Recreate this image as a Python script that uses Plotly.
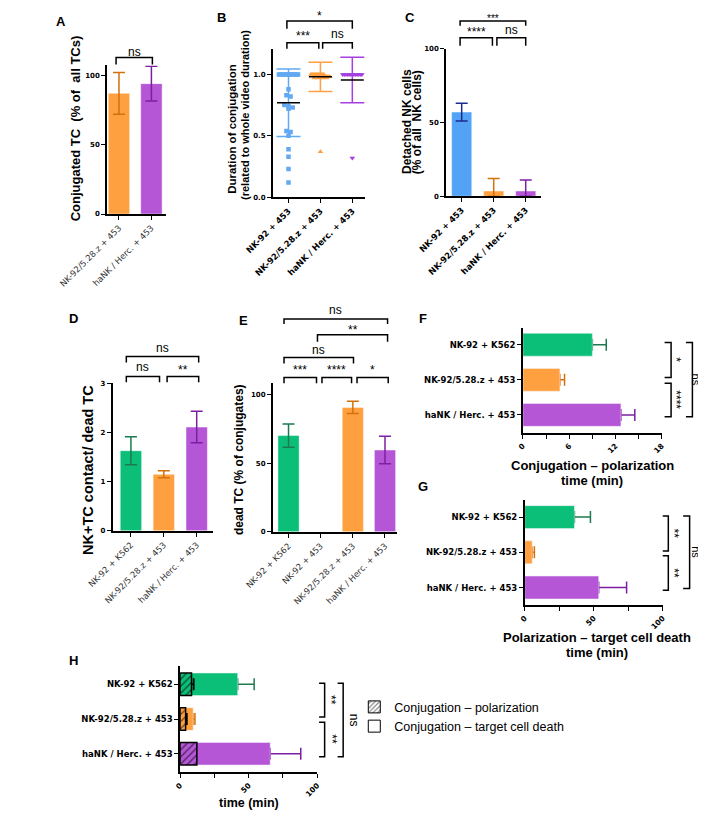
import plotly.graph_objects as go

W, H = 706, 817
OFF = 8  # the page body adds an 8px margin; map reference pixels onto the paper accordingly
def X(px): return (px - OFF) / W
def Y(py): return 1 - (py - OFF) / H

FONT = "Liberation Sans, Arial, sans-serif"
TFONT = "DejaVu Sans, sans-serif"

GREEN, GREEN_D = "#0cbf78", "#1d7a50"
ORANGE, ORANGE_D = "#ffa040", "#d2700c"
PURPLE, PURPLE_D = "#b556d6", "#7d1fa3"
BLUE, BLUE_D = "#52a3f6", "#1c2b8e"
BLUE_PT = "#62a8f2"
PURPLE_PT = "#a63fe0"

# ------------------------------------------------------------------ data
A_cats = ["NK-92/5.28.z + 453", "haNK / Herc. + 453"]
A_mean = [87, 94]
A_sd = [15, 12.5]
A_yticks = [0, 50, 100]

B_cats = ["NK-92 + 453", "NK-92/5.28.z + 453", "haNK / Herc. + 453"]
B_nk92 = [1.0, 1.0, 1.0, 1.0, 1.0, 1.0, 1.0, 1.0, 1.0, 1.0, 1.0, 1.0,
          0.88, 0.83, 0.82, 0.75, 0.74, 0.73, 0.72, 0.54, 0.53, 0.50,
          0.39, 0.33, 0.23, 0.12]
B_528z = [1.0, 1.0, 1.0, 1.0, 1.0, 1.0, 1.0, 1.0, 1.0, 1.0, 1.0, 1.0, 1.0, 1.0,
          0.98, 0.98, 0.98, 0.98, 0.98, 0.98, 0.97, 0.97, 0.97, 0.97, 0.37]
B_hank = [1.0, 1.0, 1.0, 1.0, 1.0, 1.0, 1.0, 1.0, 1.0, 1.0, 1.0, 1.0, 1.0, 0.32]
B_mean = [0.77, 0.98, 0.955]
B_sd = [0.275, 0.12, 0.185]
B_yticks = [0.0, 0.5, 1.0]
B_ytext = ["0.0", "0.5", "1.0"]

C_cats = ["NK-92 + 453", "NK-92/5.28.z + 453", "haNK / Herc. + 453"]
C_mean = [57, 3.5, 3.5]
C_sd = [6, 8.5, 7.5]
C_yticks = [0, 50, 100]

D_cats = ["NK-92 + K562", "NK-92/5.28.z + 453", "haNK / Herc. + 453"]
D_mean = [1.63, 1.15, 2.11]
D_sd = [0.285, 0.07, 0.32]
D_yticks = [0, 1, 2, 3]

E_cats = ["NK-92 + K562", "NK-92 + 453", "NK-92/5.28.z + 453", "haNK / Herc. + 453"]
E_mean = [70, 0, 90.5, 59.5]
E_sd = [8.5, 0, 4.5, 10]
E_yticks = [0, 50, 100]

F_cats = ["NK-92 + K562", "NK-92/5.28.z + 453", "haNK / Herc. + 453"]
F_mean = [9.0, 4.8, 12.7]
F_sd = [1.8, 0.6, 1.8]
F_xticks = [0, 6, 12, 18]

G_cats = ["NK-92 + K562", "NK-92/5.28.z + 453", "haNK / Herc. + 453"]
G_mean = [36, 5.4, 53.6]
G_sd = [11.6, 1.6, 20.2]
G_xticks = [0, 50, 100]

H_cats = ["NK-92 + K562", "NK-92/5.28.z + 453", "haNK / Herc. + 453"]
H_pol_mean = [8.3, 4.0, 12.2]
H_pol_sd = [1.7, 1.0, 0]
H_death_mean = [42, 9.5, 65.7]
H_death_sd = [12, 1.3, 22.3]
H_xticks = [0, 50, 100]

# ------------------------------------------------------------------ styles
BAR_COL = [GREEN, ORANGE, PURPLE]
ERR_COL = [GREEN_D, ORANGE_D, PURPLE_D]
EDGE = dict(color="rgba(255,255,255,0.45)", width=1)

YT = dict(family=TFONT, size=7, color="black", weight="bold")
XT = dict(family=TFONT, size=7.5, color="black", weight="bold")
CATG = dict(family=TFONT, size=8.5, color="#333333")
CATB = dict(family=TFONT, size=8.5, color="black", weight="bold")
HCAT = dict(family=TFONT, size=8.5, color="black", weight="bold")

fig = go.Figure()
axes = {}
shapes = []
annots = []


def add_axes(n, xdom, ydom, xr, yr, xkw, ykw):
    xname = "xaxis" if n == 1 else f"xaxis{n}"
    yname = "yaxis" if n == 1 else f"yaxis{n}"
    xa = "x" if n == 1 else f"x{n}"
    ya = "y" if n == 1 else f"y{n}"
    base = dict(showline=True, linecolor="black", linewidth=1.5, ticks="outside",
                ticklen=4, tickwidth=1.3, tickcolor="black", showgrid=False,
                zeroline=False, fixedrange=True)
    axes[xname] = dict(base, domain=[X(xdom[0]), X(xdom[1])], range=xr, anchor=ya, **xkw)
    axes[yname] = dict(base, domain=[Y(ydom[1]), Y(ydom[0])], range=yr, anchor=xa, **ykw)
    return xa, ya


def minor_of(t):
    return dict(tickmode="array", tickvals=[(a + b) / 2 for a, b in zip(t, t[1:])],
                ticks="outside", ticklen=4, tickwidth=1.3, tickcolor="black")


def vbracket(xa, i0, i1, line_py, leg_py, text, text_py, size=12):
    shapes.append(dict(type="path", xref=xa, yref="paper",
                       path=f"M{i0},{Y(leg_py)} L{i0},{Y(line_py)} L{i1},{Y(line_py)} L{i1},{Y(leg_py)}",
                       line=dict(color="black", width=1.5)))
    ty = text_py + (3 if "*" in text else 0)
    annots.append(dict(xref=xa, yref="paper", x=(i0 + i1) / 2, y=Y(ty), text=text,
                       showarrow=False, xanchor="center", yanchor="middle",
                       font=dict(family=FONT, size=size, color="black")))


def hbracket(ya, y0, y1, arm_px, line_px, text, text_px, size=12):
    shapes.append(dict(type="path", xref="paper", yref=ya,
                       path=f"M{X(arm_px)},{y0} L{X(line_px)},{y0} L{X(line_px)},{y1} L{X(arm_px)},{y1}",
                       line=dict(color="black", width=1.5)))
    tx = text_px - (3 if "*" in text else 0)
    annots.append(dict(xref="paper", yref=ya, x=X(tx), y=(y0 + y1) / 2, text=text,
                       showarrow=False, xanchor="center", yanchor="middle", textangle=90,
                       font=dict(family=FONT, size=size, color="black")))


def text(px, py, t, size=12, bold=False, angle=0, family=FONT):
    annots.append(dict(xref="paper", yref="paper", x=X(px), y=Y(py), text=t,
                       showarrow=False, xanchor="center", yanchor="middle", textangle=angle,
                       font=dict(family=family, size=size, color="black",
                                 weight="bold" if bold else "normal")))


def vbars(xa, ya, means, sds, cols, ecols, width):
    for i, (m, s, c, e) in enumerate(zip(means, sds, cols, ecols)):
        err = dict(type="data", symmetric=False, array=[s], arrayminus=[min(s, m)],
                   color=e, thickness=1.5, width=6, visible=s > 0)
        fig.add_trace(go.Bar(x=[i], y=[m], width=width, xaxis=xa, yaxis=ya,
                             marker=dict(color=c, line=EDGE), error_y=err,
                             showlegend=False, hoverinfo="skip"))


def hbars(xa, ya, means, sds, cols, ecols, width, pattern=None, line=None):
    for i, (m, s, c, e) in enumerate(zip(means, sds, cols, ecols)):
        if s > 0:
            fig.add_trace(go.Bar(x=[m], y=[i], width=width, orientation="h", xaxis=xa, yaxis=ya,
                                 marker=dict(color="rgba(0,0,0,0)"),
                                 error_x=dict(type="data", symmetric=False, array=[s], arrayminus=[0],
                                              color=e, thickness=1.5, width=6),
                                 showlegend=False, hoverinfo="skip"))
        mk = dict(color=c, line=line if line else EDGE)
        if pattern:
            mk["pattern"] = dict(shape="/", fgcolor="black", bgcolor=c, size=5, solidity=0.3)
        fig.add_trace(go.Bar(x=[m], y=[i], width=width, orientation="h", xaxis=xa, yaxis=ya,
                             marker=mk, showlegend=False, hoverinfo="skip"))


def swarm(vals, center, tol=0.03, step=0.13, maxhalf=0.3):
    s = sorted(vals, reverse=True)
    clusters = []
    for v in s:
        if clusters and clusters[-1][0] - v <= tol:
            clusters[-1].append(v)
        else:
            clusters.append([v])
    xs, ys = [], []
    for cl in clusters:
        k = len(cl)
        if k == 1:
            offs = [0.0]
        else:
            half = min(maxhalf, step * (k - 1) / 2)
            offs = [-half + 2 * half * j / (k - 1) for j in range(k)]
        xs += [center + o for o in offs]
        ys += cl
    return xs, ys


# ------------------------------------------------------------------ panel A
xa, ya = add_axes(1, (63, 127), (62, 212), [-0.371, 1.457], [0, 107.1],
                  dict(tickvals=list(range(len(A_cats))), ticktext=A_cats, tickangle=-45, tickfont=CATG),
                  dict(tickvals=A_yticks, tickfont=YT))
vbars(xa, ya, A_mean, A_sd, [ORANGE, PURPLE], [ORANGE_D, PURPLE_D], 0.66)
vbracket(xa, -0.09, 1.03, 54, 61, "ns", 48)
text(29, 125, "Conjugated TC  (% of  all TCs)", size=13, bold=True, angle=-90)
text(13, 18, "A", size=13, bold=True)

# ------------------------------------------------------------------ panel B
xa, ya = add_axes(2, (242, 342), (45, 195), [-0.493, 2.41], [0, 1.21],
                  dict(tickvals=list(range(len(B_cats))), ticktext=B_cats, tickangle=-45, tickfont=CATB),
                  dict(tickvals=B_yticks, ticktext=B_ytext, tickfont=YT))
groups = [(B_nk92, BLUE_PT, "square", 4.5), (B_528z, ORANGE, "triangle-up", 5),
          (B_hank, PURPLE_PT, "triangle-down", 5)]
for i, (vals, col, sym, sz) in enumerate(groups):
    xs, ys = swarm(vals, i)
    fig.add_trace(go.Scatter(x=xs, y=ys, mode="markers", xaxis=xa, yaxis=ya,
                             marker=dict(symbol=sym, size=sz, color=col, line=dict(width=0)),
                             showlegend=False, hoverinfo="skip"))
for i, (m, s) in enumerate(zip(B_mean, B_sd)):
    col = groups[i][1]
    fig.add_trace(go.Scatter(x=[i], y=[m], mode="markers", xaxis=xa, yaxis=ya,
                             marker=dict(size=1, color="rgba(0,0,0,0)"),
                             error_y=dict(type="data", array=[s], color=col, thickness=1.5, width=12),
                             showlegend=False, hoverinfo="skip"))
    fig.add_trace(go.Scatter(x=[i - 0.36, i + 0.36], y=[m, m], mode="lines", xaxis=xa, yaxis=ya,
                             line=dict(color="black", width=1.5), showlegend=False, hoverinfo="skip"))
vbracket(xa, -0.05, 0.95, 39, 45, "***", 29)
vbracket(xa, 1.07, 2.0, 39, 45, "ns", 30)
vbracket(xa, -0.05, 2.0, 17, 25, "*", 9)
text(198, 126, "Duration of conjugation", size=11.5, bold=True, angle=-90)
text(212, 112, "(related to whole video duration)", size=11, bold=True, angle=-90)
text(187, 14, "B", size=13, bold=True)

# ------------------------------------------------------------------ panel C
xa, ya = add_axes(3, (429, 532), (45, 194), [-0.49, 2.49], [0, 100],
                  dict(tickvals=list(range(len(C_cats))), ticktext=C_cats, tickangle=-45, tickfont=CATB),
                  dict(tickvals=C_yticks, tickfont=YT))
vbars(xa, ya, C_mean, C_sd, [BLUE, ORANGE, PURPLE], [BLUE_D, ORANGE_D, PURPLE_D], 0.63)
vbracket(xa, -0.05, 0.96, 34, 42, "****", 25)
vbracket(xa, 1.1, 2.0, 34, 42, "ns", 26)
vbracket(xa, -0.05, 2.0, 17, 22, "***", 12, size=10)
text(387, 119, "Detached NK cells", size=12, bold=True, angle=-90)
text(398, 119, "(% of all  NK cells)", size=12, bold=True, angle=-90)
text(390, 14, "C", size=13, bold=True)

# ------------------------------------------------------------------ panel D
xa, ya = add_axes(4, (69, 178), (383, 532), [-0.56, 2.51], [0, 3],
                  dict(tickvals=list(range(len(D_cats))), ticktext=D_cats, tickangle=-45, tickfont=CATG),
                  dict(tickvals=D_yticks, tickfont=YT))
vbars(xa, ya, D_mean, D_sd, BAR_COL, ERR_COL, 0.65)
vbracket(xa, -0.14, 0.87, 376, 382, "ns", 367)
vbracket(xa, 1.1, 2.06, 376, 382, "**", 367)
vbracket(xa, -0.14, 2.06, 356, 362, "ns", 347)
text(43, 470, "NK+TC contact/ dead TC", size=14.5, bold=True, angle=-90)
text(27, 318, "D", size=13, bold=True)

# ------------------------------------------------------------------ panel E
xa, ya = add_axes(5, (242, 376), (383, 533), [-0.49, 3.37], [0, 108],
                  dict(tickvals=list(range(len(E_cats))), ticktext=E_cats, tickangle=-45, tickfont=CATG),
                  dict(tickvals=E_yticks, tickfont=YT))
vbars(xa, ya, E_mean, E_sd, [GREEN, GREEN, ORANGE, PURPLE], [GREEN_D, GREEN_D, ORANGE_D, PURPLE_D], 0.66)
vbracket(xa, -0.14, 0.87, 377, 383, "***", 367)
vbracket(xa, 1.04, 1.96, 377, 383, "****", 367)
vbracket(xa, 2.13, 3.1, 377, 383, "*", 367)
vbracket(xa, -0.14, 2.02, 357, 363, "ns", 349)
vbracket(xa, 0.9, 3.08, 334, 341, "**", 326)
vbracket(xa, -0.14, 3.08, 318, 323, "ns", 309)
text(205, 460, "dead TC (% of conjugates)", size=12, bold=True, angle=-90)
text(210, 320, "E", size=13, bold=True)

# ------------------------------------------------------------------ panel F
xa, ya = add_axes(6, (512, 662), (327, 433), [0, 18], [2.51, -0.48],
                  dict(tickvals=F_xticks, tickangle=-45, tickfont=XT, minor=minor_of(F_xticks)),
                  dict(tickvals=list(range(len(F_cats))), ticktext=F_cats, tickfont=HCAT))
hbars(xa, ya, F_mean, F_sd, BAR_COL, ERR_COL, 0.65)
hbracket(ya, -0.06, 0.93, 665, 672, "*", 680)
hbracket(ya, 1.1, 2.05, 665, 672, "****", 680)
hbracket(ya, -0.06, 2.05, 688, 695, "ns", 699, size=11)
text(587, 466, "Conjugation – polarization", size=13, bold=True)
text(587, 481, "time (min)", size=13, bold=True)
text(404, 318, "F", size=13, bold=True)

# ------------------------------------------------------------------ panel G
xa, ya = add_axes(7, (514, 663), (501, 607), [0, 100], [2.5, -0.48],
                  dict(tickvals=G_xticks, tickangle=-45, tickfont=XT, minor=minor_of(G_xticks)),
                  dict(tickvals=list(range(len(G_cats))), ticktext=G_cats, tickfont=HCAT))
hbars(xa, ya, G_mean, G_sd, BAR_COL, ERR_COL, 0.65)
hbracket(ya, -0.03, 0.96, 663, 669, "**", 678)
hbracket(ya, 1.1, 2.08, 663, 669, "**", 678)
hbracket(ya, -0.03, 2.03, 685, 692, "ns", 699, size=11)
text(592, 640, "Polarization – target cell death", size=13, bold=True)
text(592, 655, "time (min)", size=13, bold=True)
text(404, 487, "G", size=13, bold=True)

# ------------------------------------------------------------------ panel H
xa, ya = add_axes(8, (142, 290), (668, 776), [0, 100], [2.54, -0.54],
                  dict(tickvals=H_xticks, tickangle=-45, tickfont=XT, minor=minor_of(H_xticks)),
                  dict(tickvals=list(range(len(H_cats))), ticktext=H_cats, tickfont=HCAT))
hbars(xa, ya, H_death_mean, H_death_sd, BAR_COL, ERR_COL, 0.65)
hbars(xa, ya, H_pol_mean, H_pol_sd, BAR_COL, ["black"] * 3, 0.65, pattern=True,
      line=dict(color="black", width=1.5))
hbracket(ya, -0.03, 0.94, 292, 298, "**", 308)
hbracket(ya, 1.09, 2.09, 292, 298, "**", 308)
hbracket(ya, -0.03, 2.09, 312, 318, "ns", 330)
text(216, 807, "time (min)", size=12.5, bold=True)
text(27, 663, "H", size=13, bold=True)

fig.add_trace(go.Bar(x=[None], y=[None], xaxis=xa, yaxis=ya, orientation="h",
                     name="Conjugation – polarization",
                     marker=dict(color="white", line=dict(color="black", width=1),
                                 pattern=dict(shape="/", fgcolor="black", bgcolor="white", size=4, solidity=0.35))))
fig.add_trace(go.Bar(x=[None], y=[None], xaxis=xa, yaxis=ya, orientation="h",
                     name="Conjugation – target cell death",
                     marker=dict(color="white", line=dict(color="black", width=1))))

fig.update_layout(
    width=W, height=H, margin=dict(l=0, r=0, t=0, b=0),
    paper_bgcolor="white", plot_bgcolor="white",
    barmode="overlay", shapes=shapes, annotations=annots,
    showlegend=True,
    legend=dict(x=X(330), y=Y(695), xanchor="left", yanchor="top",
                font=dict(family=FONT, size=12.5, color="black"),
                bgcolor="rgba(0,0,0,0)", borderwidth=0, tracegroupgap=0,
                itemclick=False, itemdoubleclick=False),
    **axes,
)

fig.write_html("out.html")
